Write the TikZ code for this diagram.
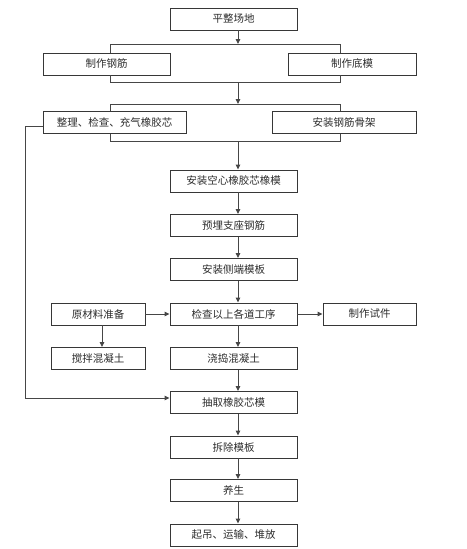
\documentclass[tikz,border=0pt]{standalone}
\usepackage{fontspec}
\usepackage{xcolor}
\usetikzlibrary{arrows.meta,calc}
\newfontfamily\cjk{Noto Sans CJK SC}
\definecolor{boxborder}{RGB}{55,55,55}
\definecolor{flowline}{RGB}{70,70,70}
\definecolor{labeltext}{RGB}{45,45,45}

\begin{document}
\begin{tikzpicture}[
    x=1pt, y=-1pt,
    >={Triangle[length=5pt, width=4.5pt]},
    procbox/.style={draw=boxborder, line width=0.9pt, fill=white, text=labeltext, font=\cjk\fontsize{10.5}{12}\selectfont, minimum height=22pt, inner sep=0pt},
    flow/.style={draw=flowline, line width=0.9pt}
]

% Page frame
\useasboundingbox (0,0) rectangle (466,549);

% Main spine of the flow
\coordinate (spine) at (238,0);

% 1. SITE PREPARATION
\node[procbox, minimum width=127pt] (flat) at (233.5,19) {平整场地};

% 2. FIRST PARALLEL PAIR
\node[procbox, minimum width=127pt] (rebar) at (106.5,64) {制作钢筋};
\node[procbox, minimum width=128pt] (baseMold) at (352,64) {制作底模};
\coordinate (splitA) at (238,44);
\coordinate (splitAL) at (110,44);
\coordinate (splitAR) at (340,44);
\coordinate (joinA) at (238,82);
\coordinate (joinAL) at (110,82);
\coordinate (joinAR) at (340,82);

% 3. SECOND PARALLEL PAIR
\node[procbox, minimum width=143pt] (sortCore) at (114.5,122.5) {整理、检查、充气橡胶芯};
\node[procbox, minimum width=144pt] (cage) at (344,122.5) {安装钢筋骨架};
\coordinate (splitB) at (238,104);
\coordinate (splitBL) at (110,104);
\coordinate (splitBR) at (340,104);
\coordinate (joinB) at (238,141);
\coordinate (joinBL) at (110,141);
\coordinate (joinBR) at (340,141);

% 4. MAIN COLUMN
\node[procbox, minimum width=127pt] (hollow) at (233.5,181) {安装空心橡胶芯橡模};
\node[procbox, minimum width=127pt] (embed) at (233.5,225.5) {预埋支座钢筋};
\node[procbox, minimum width=127pt] (sideMold) at (233.5,269.5) {安装侧端模板};
\node[procbox, minimum width=127pt] (check) at (233.5,314) {检查以上各道工序};
\node[procbox, minimum width=127pt] (pour) at (233.5,358.5) {浇捣混凝土};
\node[procbox, minimum width=127pt] (extract) at (233.5,402.5) {抽取橡胶芯模};
\node[procbox, minimum width=127pt] (strip) at (233.5,447) {拆除模板};
\node[procbox, minimum width=127pt] (cure) at (233.5,490.5) {养生};
\node[procbox, minimum width=127pt] (lift) at (233.5,535) {起吊、运输、堆放};

% 5. SIDE BOXES
\node[procbox, minimum width=94pt] (raw) at (98,314) {原材料准备};
\node[procbox, minimum width=94pt] (mix) at (98,358.5) {搅拌混凝土};
\node[procbox, minimum width=93pt] (specimen) at (369.5,314) {制作试件};
\coordinate (loopX) at (25,0);
\coordinate (loopOut) at ([yshift=-3.5pt]sortCore.west);
\coordinate (loopIn) at ([yshift=4.5pt]extract.west);

% 6. CONNECTORS
\draw[flow, ->] (flat.south -| spine) -- (splitA);
\draw[flow] (rebar.north -| splitAL) |- (splitAR) -- (splitAR |- baseMold.north);
\draw[flow] (rebar.south -| joinAL) |- (joinAR) -- (joinAR |- baseMold.south);
\draw[flow, ->] (joinA) -- (splitB);
\draw[flow] (sortCore.north -| splitBL) |- (splitBR) -- (splitBR |- cage.north);
\draw[flow] (sortCore.south -| joinBL) |- (joinBR) -- (joinBR |- cage.south);
\draw[flow, ->] (joinB) -- (hollow.north -| spine);

\foreach \a/\b in {hollow/embed, embed/sideMold, sideMold/check, check/pour, pour/extract, extract/strip, strip/cure, cure/lift}
    \draw[flow, ->] (\a.south -| spine) -- (\b.north -| spine);

\draw[flow, ->] (raw) -- (check);
\draw[flow, ->] (check) -- (specimen);
\draw[flow, ->] ([xshift=4pt]raw.south) -- ([xshift=4pt]mix.north);

% core return line on the left
\draw[flow, ->] (loopOut) -| (loopX |- loopIn) -- (loopIn);

\end{tikzpicture}
\end{document}
